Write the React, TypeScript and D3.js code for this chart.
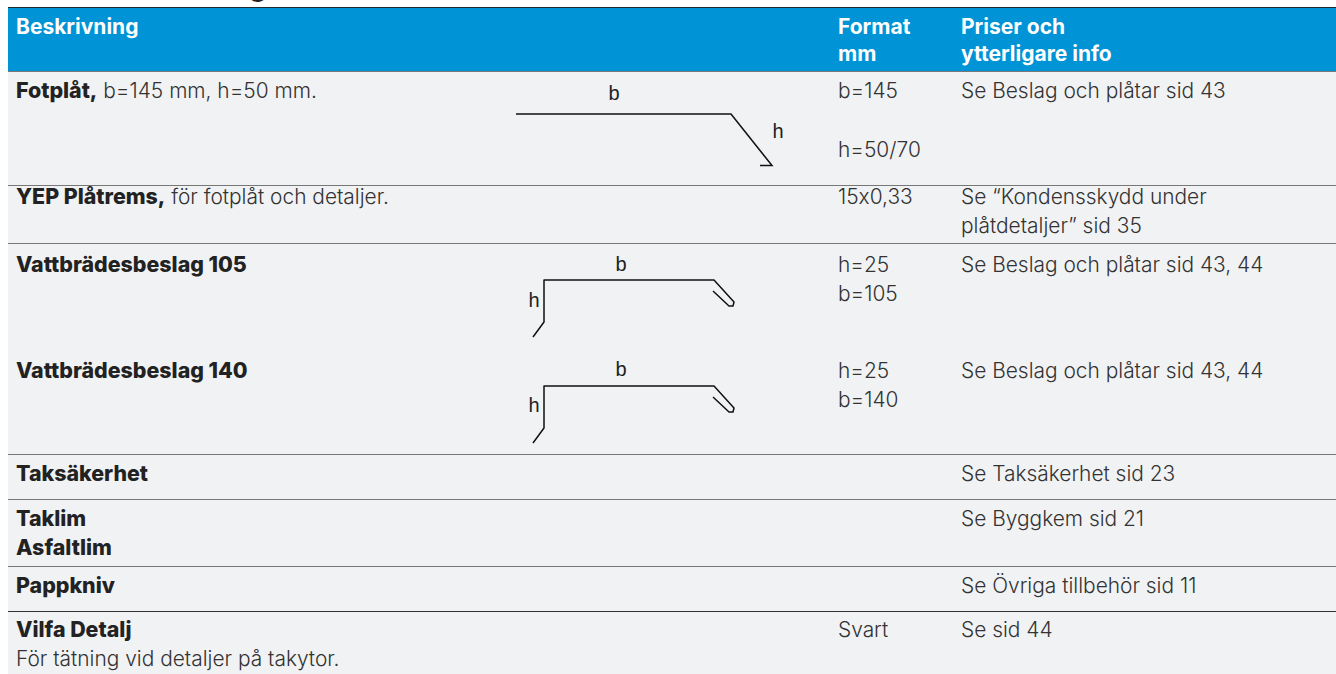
import React from 'react';
import * as d3 from 'd3';

const headerFirst = ['Beskrivning', 'Format', 'Priser och'];
const headerSecond = ['', 'mm', 'ytterligare info'];

const rowEdges = [71, 185, 243, 454, 499, 566, 611];

// [bold, light, line, column]
const textLines: [string, string, number, number][] = [
  ['Fotplåt,', ' b=145 mm, h=50 mm.', 98, 0],
  ['', 'b=145', 98, 1],
  ['', 'h=50/70', 157, 1],
  ['', 'Se Beslag och plåtar sid 43', 98, 2],
  ['YEP Plåtrems,', ' för fotplåt och detaljer.', 204, 0],
  ['', '15x0,33', 204, 1],
  ['', 'Se “Kondensskydd under', 204, 2],
  ['', 'plåtdetaljer” sid 35', 233, 2],
  ['Vattbrädesbeslag 105', '', 272, 0],
  ['', 'h=25', 272, 1],
  ['', 'b=105', 301, 1],
  ['', 'Se Beslag och plåtar sid 43, 44', 272, 2],
  ['Vattbrädesbeslag 140', '', 378, 0],
  ['', 'h=25', 378, 1],
  ['', 'b=140', 407, 1],
  ['', 'Se Beslag och plåtar sid 43, 44', 378, 2],
  ['Taksäkerhet', '', 481, 0],
  ['', 'Se Taksäkerhet sid 23', 481, 2],
  ['Taklim', '', 526, 0],
  ['Asfaltlim', '', 555, 0],
  ['', 'Se Byggkem sid 21', 526, 2],
  ['Pappkniv', '', 593, 0],
  ['', 'Se Övriga tillbehör sid 11', 593, 2],
  ['Vilfa Detalj', '', 637, 0],
  ['', 'Svart', 637, 1],
  ['', 'Se sid 44', 637, 2],
  ['', 'För tätning vid detaljer på takytor.', 666, 0],
];

const footPlate: [number, number][] = [[516, 114], [731, 114], [772, 165.5], [760, 165.5]];
const flashing: [number, number][] = [
  [533, 337], [544, 322], [544, 280], [714, 280], [734, 302], [733, 306], [729, 306], [713, 291],
];
const flashingOffsets = [0, 106];

const diagramLabels: [string, number, number][] = [
  ['b', 614, 100],
  ['h', 778, 138],
  ['b', 621, 271],
  ['h', 534, 307],
  ['b', 621, 376],
  ['h', 534, 412],
];

const colX = d3.scaleOrdinal<number, number>().domain([0, 1, 2]).range([16, 838, 961]);
const font = 'Inter, sans-serif';

export default function App() {
  const line = d3.line();
  return (
    <svg
      width={1336}
      height={674}
      style={{ position: 'absolute', left: 0, top: 0, background: '#fff', fontFeatureSettings: '"calt" 0' }}
      fontFamily={font}
      fontSize={20.9}
    >
      <text x={249} y={-4} fontSize={28} fontWeight={700} fill="#222">g</text>
      <rect x={8} y={7} width={1328} height={667} fill="#f1f2f4" />
      <rect x={8} y={7} width={1328} height={64} fill="#0093d5" />
      <line x1={8} x2={1336} y1={7.5} y2={7.5} stroke="#1b2a33" />
      {headerFirst.map((t, i) => (
        <text key={t} x={colX(i)} y={34} fill="#fff" fontWeight={700} fontSize={21}>{t}</text>
      ))}
      {headerSecond.map((t, i) => (
        <text key={i} x={colX(i)} y={61} fill="#fff" fontWeight={700} fontSize={21}>{t}</text>
      ))}
      {rowEdges.map((y, i) => (
        <line key={i} x1={8} x2={1336} y1={y + 0.5} y2={y + 0.5} stroke={y === 611 ? '#333' : '#777'} strokeWidth={1.2} />
      ))}
      {textLines.map(([bold, light, y, col], i) => (
        <text key={i} x={colX(col)} y={y} fill="#333" xmlSpace="preserve">
          {bold && <tspan fontWeight={800} fontSize={21.4} fill="#222">{bold}</tspan>}
          {light && <tspan fontWeight={300}>{light}</tspan>}
        </text>
      ))}
      <path d={line(footPlate) ?? ''} fill="none" stroke="#111" strokeWidth={1.5} />
      {flashingOffsets.map((dy) => (
        <path
          key={dy}
          transform={`translate(0,${dy})`}
          d={line(flashing) ?? ''}
          fill="none"
          stroke="#111"
          strokeWidth={1.5}
          strokeLinejoin="round"
        />
      ))}
      {diagramLabels.map(([t, x, y], i) => (
        <text key={i} x={x} y={y} textAnchor="middle" fontFamily="Liberation Sans, sans-serif" fontSize={20} fill="#222">{t}</text>
      ))}
    </svg>
  );
}
